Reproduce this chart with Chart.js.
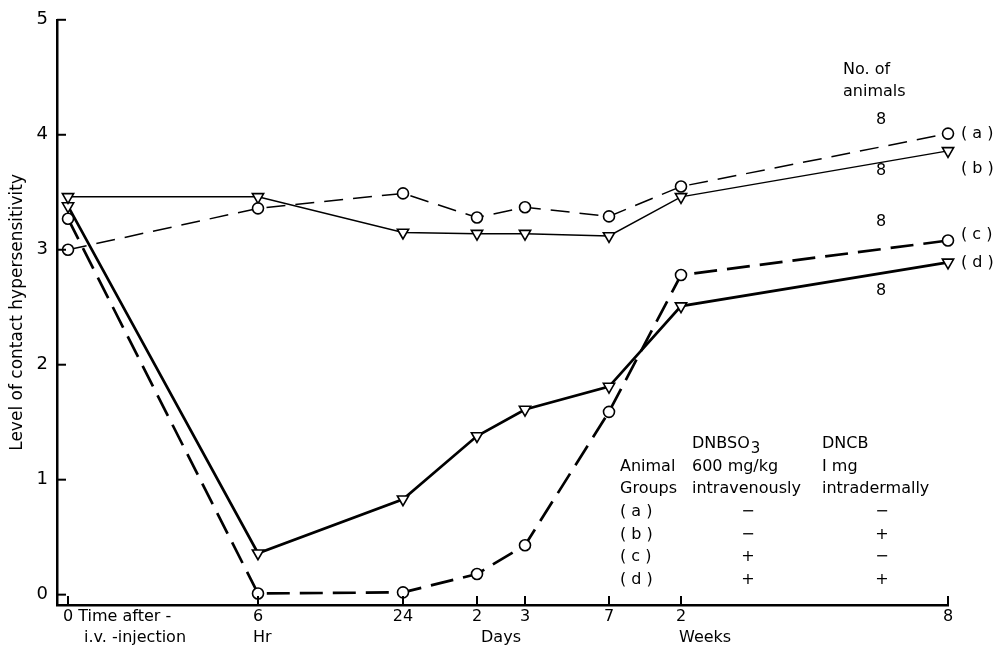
<!DOCTYPE html>
<html>
<head>
<meta charset="utf-8">
<script src="https://cdn.jsdelivr.net/npm/chart.js@4.4.1/dist/chart.umd.min.js"></script>
<style>
  html, body { margin: 0; padding: 0; background: #fff; }
  #wrap { width: 1000px; height: 656px; position: relative; }
</style>
</head>
<body>
<div id="wrap"><canvas id="c"></canvas></div>
<script>
// broken time axis: positions of the sampling times along the axis (arbitrary units)
const xPositions = [0, 190, 335, 409, 457, 541, 613, 880]
const xTickText = ['0', '6', '24', '2', '3', '7', '2', '8']
const yTicks = [0, 1, 2, 3, 4, 5]

// level of contact hypersensitivity per group
const groupA = [3.00, 3.36, 3.49, 3.28, 3.37, 3.29, 3.55, 4.01]
const groupB = [3.46, 3.46, 3.15, 3.14, 3.14, 3.12, 3.46, 3.86]
const groupC = [3.27, 0.01, 0.02, 0.18, 0.43, 1.59, 2.78, 3.08]
const groupD = [3.38, 0.36, 0.83, 1.38, 1.61, 1.81, 2.51, 2.89]

const groupNames = ['( a )', '( b )', '( c )', '( d )']
const animalCounts = ['8', '8', '8', '8']
const treatDNBSO3 = ['\u2212', '\u2212', '+', '+']
const treatDNCB = ['\u2212', '+', '\u2212', '+']

const FONT = '"DejaVu Sans", sans-serif'

const pts = arr => arr.map((v, i) => ({x: xPositions[i], y: v}))

const series = (name, values, shape, width, dash) => ({
    label: name,
    data: pts(values),
    borderColor: '#000',
    borderWidth: width,
    borderDash: dash,
    pointStyle: shape,
    pointRotation: shape === 'triangle' ? 180 : 0,
    pointRadius: shape === 'triangle' ? 6.5 : 5.5,
    pointBorderWidth: 1.6,
    pointBackgroundColor: '#fff',
    pointBorderColor: '#000',
    tension: 0
})

const extras = {
    id: 'extras',
    afterDraw(chart) {
        const {ctx, chartArea, scales: {x, y}} = chart
        ctx.save()
        ctx.strokeStyle = '#000'
        ctx.lineWidth = 2
        // inward tick marks
        yTicks.forEach(v => {
            const py = y.getPixelForValue(v)
            ctx.beginPath()
            ctx.moveTo(chartArea.left, py)
            ctx.lineTo(chartArea.left + 9, py)
            ctx.stroke()
        })
        xPositions.forEach(v => {
            const px = x.getPixelForValue(v)
            ctx.beginPath()
            ctx.moveTo(px, chartArea.bottom)
            ctx.lineTo(px, chartArea.bottom - 9)
            ctx.stroke()
        })

        ctx.fillStyle = '#000'
        ctx.font = '16px ' + FONT
        ctx.textBaseline = 'middle'
        const row1 = chartArea.bottom + 12
        const row2 = chartArea.bottom + 33
        const px = i => x.getPixelForValue(xPositions[i])
        // x labels
        ctx.textAlign = 'left'
        ctx.fillText('0 Time after -', px(0) - 5, row1)
        ctx.fillText('i.v. -injection', px(0) + 16, row2)
        ctx.fillText('Hr', px(1) - 5, row2)
        ctx.fillText('Weeks', px(6) - 2, row2)
        ctx.textAlign = 'center'
        for (let i = 1; i < xTickText.length; i++) ctx.fillText(xTickText[i], px(i), row1)
        ctx.fillText('Days', (px(3) + px(4)) / 2, row2)

        // group labels at the right end
        const last = xPositions.length - 1
        const ends = [groupA, groupB, groupC, groupD].map(g => y.getPixelForValue(g[last]))
        const offs = [0, 18, -6, 0]
        ctx.textAlign = 'left'
        groupNames.forEach((n, i) => ctx.fillText(n, px(last) + 13, ends[i] + offs[i]))

        // number of animals
        ctx.fillText('No. of', 843, 70)
        ctx.fillText('animals', 843, 92)
        ctx.textAlign = 'center'
        const countY = [120, 171, 222, 291]
        animalCounts.forEach((n, i) => ctx.fillText(n, 881, countY[i]))

        // treatment table
        ctx.textAlign = 'left'
        const t0 = 444, dy = 22.6
        ctx.fillText('DNBSO', 692, t0)
        const w = ctx.measureText('DNBSO').width
        ctx.font = '15px ' + FONT
        ctx.fillText('3', 692 + w + 1, t0 + 5)
        ctx.font = '16px ' + FONT
        ctx.fillText('DNCB', 822, t0)
        ctx.fillText('Animal', 620, t0 + dy)
        ctx.fillText('600 mg/kg', 692, t0 + dy)
        ctx.fillText('I mg', 822, t0 + dy)
        ctx.fillText('Groups', 620, t0 + 2 * dy)
        ctx.fillText('intravenously', 692, t0 + 2 * dy)
        ctx.fillText('intradermally', 822, t0 + 2 * dy)
        groupNames.forEach((n, i) => {
            const ry = t0 + (3 + i) * dy
            ctx.textAlign = 'left'
            ctx.fillText(n, 620, ry)
            ctx.textAlign = 'center'
            ctx.fillText(treatDNBSO3[i], 748, ry)
            ctx.fillText(treatDNCB[i], 882, ry)
        })
        ctx.restore()
    }
}

new Chart(document.getElementById('c').getContext('2d'), {
    type: 'line',
    data: {
        datasets: [
            series('(a)', groupA, 'circle', 1.5, [19, 10]),
            series('(b)', groupB, 'triangle', 1.5, []),
            series('(c)', groupC, 'circle', 2.7, [23, 10]),
            series('(d)', groupD, 'triangle', 2.7, [])
        ]
    },
    options: {
        responsive: true,
        maintainAspectRatio: false,
        animation: false,
        clip: false,
        layout: {padding: {top: 10, right: 52, left: 0, bottom: 0}},
        plugins: {legend: {display: false}, tooltip: {enabled: false}},
        scales: {
            x: {
                type: 'linear',
                min: -11,
                max: 880,
                grid: {display: false, drawTicks: false},
                border: {display: true, color: '#000', width: 2.5},
                ticks: {display: false},
                afterFit: s => { s.height = 51 }
            },
            y: {
                min: -0.09,
                max: 5,
                afterBuildTicks: s => { s.ticks = yTicks.map(v => ({value: v})) },
                grid: {display: false, drawTicks: false},
                border: {display: true, color: '#000', width: 2.5},
                ticks: {color: '#000', font: {family: FONT, size: 18}, padding: 9},
                title: {
                    display: true,
                    text: 'Level of contact hypersensitivity',
                    color: '#000',
                    font: {family: FONT, size: 17},
                    padding: {top: 7, bottom: 0}
                },
                afterFit: s => { s.width = 57 }
            }
        }
    },
    plugins: [extras]
})
</script>
</body>
</html>
